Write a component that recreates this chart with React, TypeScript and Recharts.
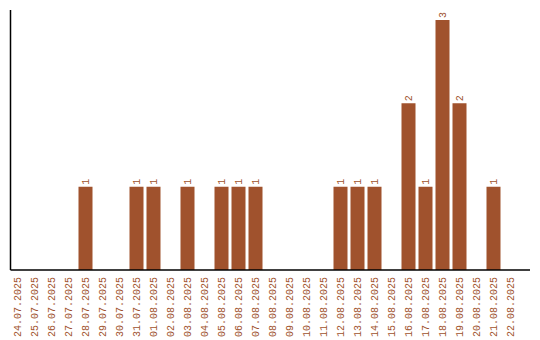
import { Bar, BarChart, LabelList, XAxis, YAxis } from "recharts";

// Daily counts, 24.07.2025 → 22.08.2025
const dates = [
  "24.07.2025", "25.07.2025", "26.07.2025", "27.07.2025", "28.07.2025",
  "29.07.2025", "30.07.2025", "31.07.2025", "01.08.2025", "02.08.2025",
  "03.08.2025", "04.08.2025", "05.08.2025", "06.08.2025", "07.08.2025",
  "08.08.2025", "09.08.2025", "10.08.2025", "11.08.2025", "12.08.2025",
  "13.08.2025", "14.08.2025", "15.08.2025", "16.08.2025", "17.08.2025",
  "18.08.2025", "19.08.2025", "20.08.2025", "21.08.2025", "22.08.2025",
];
const counts = [
  0, 0, 0, 0, 1,
  0, 0, 1, 1, 0,
  1, 0, 1, 1, 1,
  0, 0, 0, 0, 1,
  1, 1, 0, 2, 1,
  3, 2, 0, 1, 0,
];

const data = dates.map((date, i) => ({ date, count: counts[i] }));

const BROWN = "#a0522d";
const FONT = "'Liberation Mono', monospace";

// tick labels read bottom-to-top, right end hanging just under the axis
function DateTick(props: any) {
  const { x, y, payload } = props;
  return (
    <text
      x={x}
      y={y}
      transform={`rotate(-90, ${x}, ${y})`}
      textAnchor="end"
      dy="0.35em"
      fill={BROWN}
      fontSize={10}
      fontFamily={FONT}
    >
      {payload.value}
    </text>
  );
}

// value labels rotated too, sitting just above each bar; zeros are skipped
function ValueLabel(props: any) {
  const { x, y, width, value } = props;
  if (!value) return null;
  const cx = x + width / 2;
  const cy = y - 2;
  return (
    <text
      x={cx}
      y={cy}
      transform={`rotate(-90, ${cx}, ${cy})`}
      textAnchor="start"
      dy="0.35em"
      fill={BROWN}
      fontSize={10}
      fontFamily={FONT}
    >
      {value}
    </text>
  );
}

export default function App() {
  return (
    <div style={{ position: "absolute", left: 0, top: 0, background: "#fff" }}>
      <BarChart
        width={540}
        height={340}
        data={data}
        margin={{ top: 10, right: 10, bottom: 0, left: 9.5 }}
        barCategoryGap={3}
      >
        <XAxis
          dataKey="date"
          interval={0}
          height={70}
          padding={{ left: -2, right: 11.5 }}
          tickLine={false}
          axisLine={{ stroke: "#000", strokeWidth: 1.5 }}
          tick={<DateTick />}
          tickMargin={1}
        />
        <YAxis
          width={1}
          domain={[0, 3]}
          padding={{ top: 10 }}
          tick={false}
          tickLine={false}
          axisLine={{ stroke: "#000", strokeWidth: 1.5 }}
        />
        <Bar dataKey="count" fill={BROWN} barSize={14} isAnimationActive={false}>
          <LabelList dataKey="count" content={<ValueLabel />} />
        </Bar>
      </BarChart>
    </div>
  );
}
